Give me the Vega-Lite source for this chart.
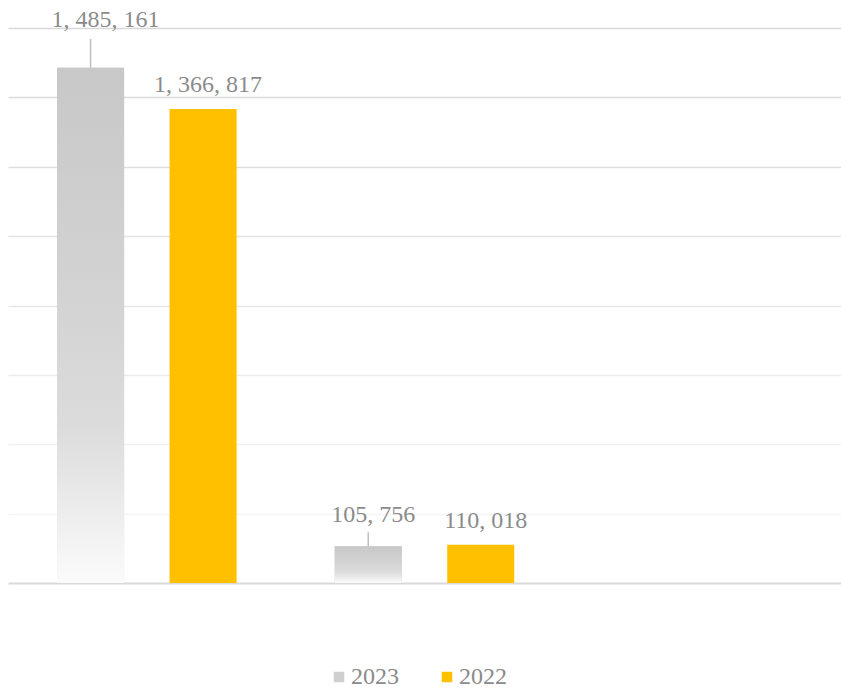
{
  "$schema": "https://vega.github.io/schema/vega-lite/v6.json",
  "width": 833,
  "height": 555,
  "autosize": {"type": "none"},
  "padding": {"left": 8, "top": 28, "right": 0, "bottom": 108},
  "background": "white",
  "config": {"view": {"stroke": null}, "font": "Liberation Serif",
    "legend": {"labelFont": "Liberation Serif"}},
  "data": {"values": [
    {"cat": "A", "year": "2023", "value": 1485161},
    {"cat": "A", "year": "2022", "value": 1366817},
    {"cat": "B", "year": "2023", "value": 105756},
    {"cat": "B", "year": "2022", "value": 110018}
  ]},
  "transform": [
    {"calculate": "replace(format(datum.value, ','), /,/g, ', ')", "as": "label"}
  ],
  "encoding": {
    "x": {"field": "cat", "type": "nominal",
      "scale": {"domain": ["A", "B", "C"], "paddingInner": 0, "paddingOuter": 0},
      "axis": {"labels": false, "ticks": false, "title": null, "domainColor": "#d9d9d9", "domainWidth": 2, "grid": false}},
    "xOffset": {"field": "year", "type": "nominal",
      "scale": {"domain": ["2023", "2022"], "paddingInner": 0.404, "paddingOuter": 0.436}},
    "y": {"field": "value", "type": "quantitative",
      "scale": {"domain": [0, 1600000], "nice": false},
      "axis": {"labels": false, "ticks": false, "domain": false, "title": null,
        "values": [200000, 400000, 600000, 800000, 1000000, 1200000, 1400000, 1600000],
        "gridWidth": 1.5,
        "gridColor": {"condition": [
          {"test": "datum.value >= 1500000", "value": "#d9d9d9"},
          {"test": "datum.value >= 1300000", "value": "#dbdbdb"},
          {"test": "datum.value >= 1100000", "value": "#dedede"},
          {"test": "datum.value >= 900000", "value": "#e2e2e2"},
          {"test": "datum.value >= 700000", "value": "#e7e7e7"},
          {"test": "datum.value >= 500000", "value": "#ececec"},
          {"test": "datum.value >= 300000", "value": "#f1f1f1"}
        ], "value": "#f4f4f4"}}}
  },
  "layer": [
    {
      "mark": {"type": "bar"},
      "encoding": {
        "color": {"field": "year", "type": "nominal",
          "scale": {"domain": ["2023", "2022"], "range": ["#cfcfcf", "#FFC000"]},
          "legend": {"title": null, "orient": "none", "legendX": 319, "legendY": 637,
            "direction": "horizontal",
            "symbolType": "square", "symbolSize": 110, "symbolStrokeWidth": 0,
            "labelFontSize": 24, "labelColor": "#8b8b8b", "labelFont": "Liberation Serif",
            "columnPadding": 36, "labelOffset": 0}}
      }
    },
    {
      "transform": [{"filter": "datum.year == '2023'"}],
      "mark": {"type": "bar", "color": {"gradient": "linear", "x1": 0, "y1": 0, "x2": 0, "y2": 1, "stops": [
              {"offset": 0, "color": "#c8c8c8"},
              {"offset": 0.45, "color": "#d3d3d3"},
              {"offset": 0.7, "color": "#dcdcdc"},
              {"offset": 1, "color": "#fbfbfb"}]}}
    },
    {
      "transform": [{"filter": "datum.year == '2023'"}],
      "mark": {"type": "rule", "color": "#bfbfbf", "strokeWidth": 1.5,
        "y2Offset": {"expr": "datum.value > 1000000 ? -29 : -14"}},
      "encoding": {"y2": {"field": "value"}}
    },
    {
      "mark": {"type": "text", "fontSize": 24, "color": "#8b8b8b", "baseline": "alphabetic",
        "dx": {"expr": "datum.year == '2023' && datum.value > 1000000 ? 15 : 5"},
        "dy": {"expr": "datum.year == '2023' ? (datum.value > 1000000 ? -41 : -24) : -17"}},
      "encoding": {"text": {"field": "label"}}
    }
  ]
}
